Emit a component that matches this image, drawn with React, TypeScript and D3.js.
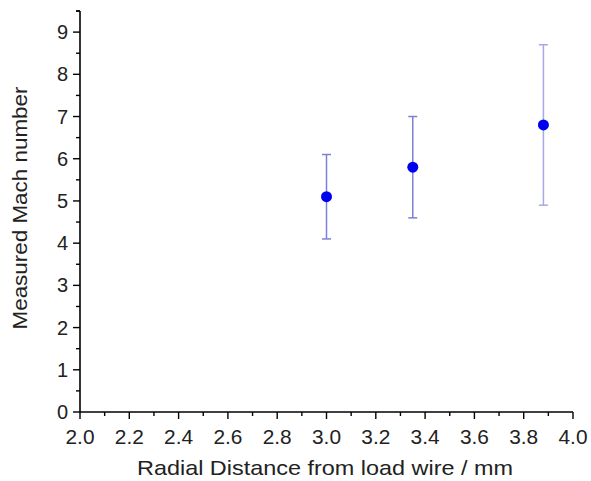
import React from "react";
import * as d3 from "d3";

const xValues = [3.0, 3.35, 3.88];
const yValues = [5.1, 5.8, 6.8];
const yLow = [4.1, 4.6, 4.9];
const yHigh = [6.1, 7.0, 8.7];
const xTickLabels = ["2.0", "2.2", "2.4", "2.6", "2.8", "3.0", "3.2", "3.4", "3.6", "3.8", "4.0"];
const yTickLabels = ["0", "1", "2", "3", "4", "5", "6", "7", "8", "9"];

const W = 591, H = 481;
const left = 80, right = 573, top = 11, bottom = 412;

export default function App() {
  const x = d3.scaleLinear().domain([2, 4]).range([left, right]);
  const y = d3.scaleLinear().domain([0, 9.5]).range([bottom, top]);
  const xMinor = d3.range(20, 41).map((v) => v / 10);
  const yMinor = d3.range(0, 20).map((v) => v / 2);
  const font = "Liberation Sans, Arial, sans-serif";
  const barColors = ["#7f7fd6", "#7f7fd6", "#a8a8e6"];
  return (
    <svg width={W} height={H} style={{ position: "absolute", left: 0, top: 0, background: "#fff" }}>
      <line x1={left} x2={left} y1={y(9.5)} y2={bottom} stroke="#000" strokeWidth={1.6} />
      <line x1={left} x2={right} y1={bottom} y2={bottom} stroke="#000" strokeWidth={1.6} />
      {xMinor.map((v, i) => (
        <line key={"xm" + i} x1={x(v)} x2={x(v)} y1={bottom} y2={bottom + (i % 2 === 0 ? 7 : 4)} stroke="#000" strokeWidth={1.4} />
      ))}
      {yMinor.map((v, i) => (
        <line key={"ym" + i} x1={left} x2={left - (i % 2 === 0 ? 7 : 4)} y1={y(v)} y2={y(v)} stroke="#000" strokeWidth={1.4} />
      ))}
      <line x1={left} x2={left - 4} y1={y(9.5)} y2={y(9.5)} stroke="#000" strokeWidth={1.4} />
      {xTickLabels.map((t) => (
        <text key={"xt" + t} x={x(+t)} y={bottom + 32} textAnchor="middle" fontFamily={font} fontSize={20} fill="#222" textLength={29} lengthAdjust="spacingAndGlyphs">{t}</text>
      ))}
      {yTickLabels.map((t) => (
        <text key={"yt" + t} x={left - 12} y={y(+t) + 7} textAnchor="end" fontFamily={font} fontSize={20} fill="#222">{t}</text>
      ))}
      <text x={325} y={475} textAnchor="middle" fontFamily={font} fontSize={21} fill="#222" textLength={376} lengthAdjust="spacingAndGlyphs">Radial Distance from load wire / mm</text>
      <text transform={`translate(27,208) rotate(-90)`} textAnchor="middle" fontFamily={font} fontSize={20} fill="#222" textLength={243} lengthAdjust="spacingAndGlyphs">Measured Mach number</text>
      {xValues.map((xv, i) => (
        <g key={"e" + i} stroke={barColors[i]} strokeWidth={1.5}>
          <line x1={x(xv)} x2={x(xv)} y1={y(yLow[i])} y2={y(yHigh[i])} />
          <line x1={x(xv) - 4.5} x2={x(xv) + 4.5} y1={y(yLow[i])} y2={y(yLow[i])} />
          <line x1={x(xv) - 4.5} x2={x(xv) + 4.5} y1={y(yHigh[i])} y2={y(yHigh[i])} />
        </g>
      ))}
      {xValues.map((xv, i) => (
        <circle key={"p" + i} cx={x(xv)} cy={y(yValues[i])} r={5.5} fill="#0000f0" />
      ))}
    </svg>
  );
}
